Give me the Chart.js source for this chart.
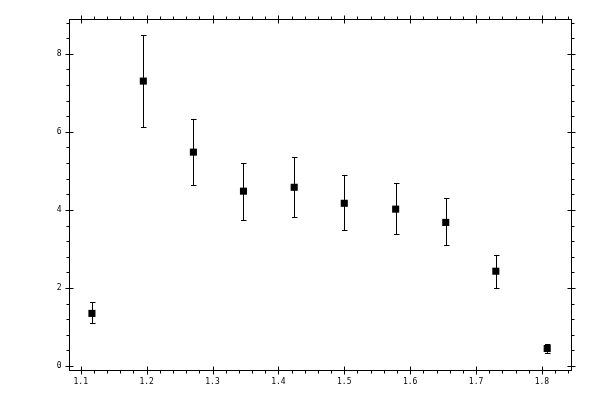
<!DOCTYPE html>
<html>
<head>
<meta charset="utf-8">
<script src="https://cdn.jsdelivr.net/npm/chart.js@4/dist/chart.umd.min.js"></script>
<style>
  html, body { margin: 0; padding: 0; background: #fff; }
  #wrap { width: 600px; height: 400px; }
</style>
</head>
<body>
<div id="wrap"><canvas id="chart"></canvas></div>
<script>
// Data
const xValues = [1.117, 1.195, 1.271, 1.347, 1.424, 1.500, 1.578, 1.654, 1.730, 1.808];
const yValues = [1.35, 7.30, 5.48, 4.48, 4.58, 4.17, 4.02, 3.68, 2.43, 0.45];
const yUpper  = [1.63, 8.48, 6.33, 5.20, 5.35, 4.89, 4.68, 4.30, 2.84, 0.56];
const yLower  = [1.10, 6.12, 4.63, 3.74, 3.81, 3.48, 3.38, 3.09, 1.99, 0.34];
const xTickLabels = ['1.1', '1.2', '1.3', '1.4', '1.5', '1.6', '1.7', '1.8'];
const yTickLabels = ['0', '2', '4', '6', '8'];

const points = xValues.map((x, i) => ({ x: x, y: yValues[i] }));

// error bars, frame, ticks and labels
const framePlugin = {
    id: 'frame',
    afterDatasetsDraw(chart) {
        const ctx = chart.ctx;
        const area = chart.chartArea;
        const xs = chart.scales.x;
        const ys = chart.scales.y;
        ctx.save();
        ctx.strokeStyle = '#000';
        ctx.fillStyle = '#000';
        ctx.lineWidth = 1;

        // error bars
        xValues.forEach((x, i) => {
            const px = Math.round(xs.getPixelForValue(x)) + 0.5;
            const top = ys.getPixelForValue(yUpper[i]);
            const bot = ys.getPixelForValue(yLower[i]);
            ctx.beginPath();
            ctx.moveTo(px, top); ctx.lineTo(px, bot);
            ctx.moveTo(px - 2.5, Math.round(top) + 0.5); ctx.lineTo(px + 3, Math.round(top) + 0.5);
            ctx.moveTo(px - 2.5, Math.round(bot) + 0.5); ctx.lineTo(px + 3, Math.round(bot) + 0.5);
            ctx.stroke();
        });

        const L = Math.round(area.left) + 0.5, R = Math.round(area.right) + 0.5;
        const T = Math.round(area.top) + 0.5, B = Math.round(area.bottom) + 0.5;
        ctx.strokeRect(L, T, R - L, B - T);

        ctx.beginPath();
        // x ticks every 0.02, major every 0.1
        for (let k = 55; k <= 92; k++) {
            const v = k / 50;
            const px = Math.round(xs.getPixelForValue(v)) + 0.5;
            if (px < L || px > R) continue;
            const major = k % 5 === 0;
            const out = major ? 4 : 3;
            ctx.moveTo(px, B + out); ctx.lineTo(px, major ? B - 4 : B);
            ctx.moveTo(px, T - out); ctx.lineTo(px, major ? T + 4 : T);
        }
        // y ticks every 0.4, major every 2
        for (let k = 0; k <= 22; k++) {
            const v = k * 0.4;
            const py = Math.round(ys.getPixelForValue(v)) + 0.5;
            if (py < T || py > B) continue;
            const major = k % 5 === 0;
            const out = major ? 4 : 3;
            ctx.moveTo(L - out, py); ctx.lineTo(major ? L + 4 : L, py);
            ctx.moveTo(R + out, py); ctx.lineTo(major ? R - 4 : R, py);
        }
        ctx.stroke();

        ctx.font = '8px "DejaVu Sans Mono", monospace';
        ctx.textAlign = 'center';
        ctx.textBaseline = 'middle';
        xTickLabels.forEach(t => {
            ctx.fillText(t, xs.getPixelForValue(parseFloat(t)), B + 11);
        });
        ctx.textAlign = 'right';
        yTickLabels.forEach(t => {
            ctx.fillText(t, L - 8, ys.getPixelForValue(parseFloat(t)));
        });
        ctx.restore();
    }
};

new Chart(document.getElementById('chart'), {
    type: 'scatter',
    data: {
        datasets: [{
            data: points,
            pointStyle: 'rect',
            pointRadius: 5,
            pointHoverRadius: 5,
            backgroundColor: '#000',
            borderColor: '#000',
            borderWidth: 0
        }]
    },
    options: {
        responsive: true,
        maintainAspectRatio: false,
        animation: false,
        layout: { padding: { left: 69, right: 29, top: 19, bottom: 30 } },
        plugins: { legend: { display: false }, tooltip: { enabled: false } },
        scales: {
            x: { type: 'linear', min: 1.0822, max: 1.8441, display: false },
            y: { type: 'linear', min: -0.10, max: 8.89, display: false }
        }
    },
    plugins: [framePlugin]
});
</script>
</body>
</html>
